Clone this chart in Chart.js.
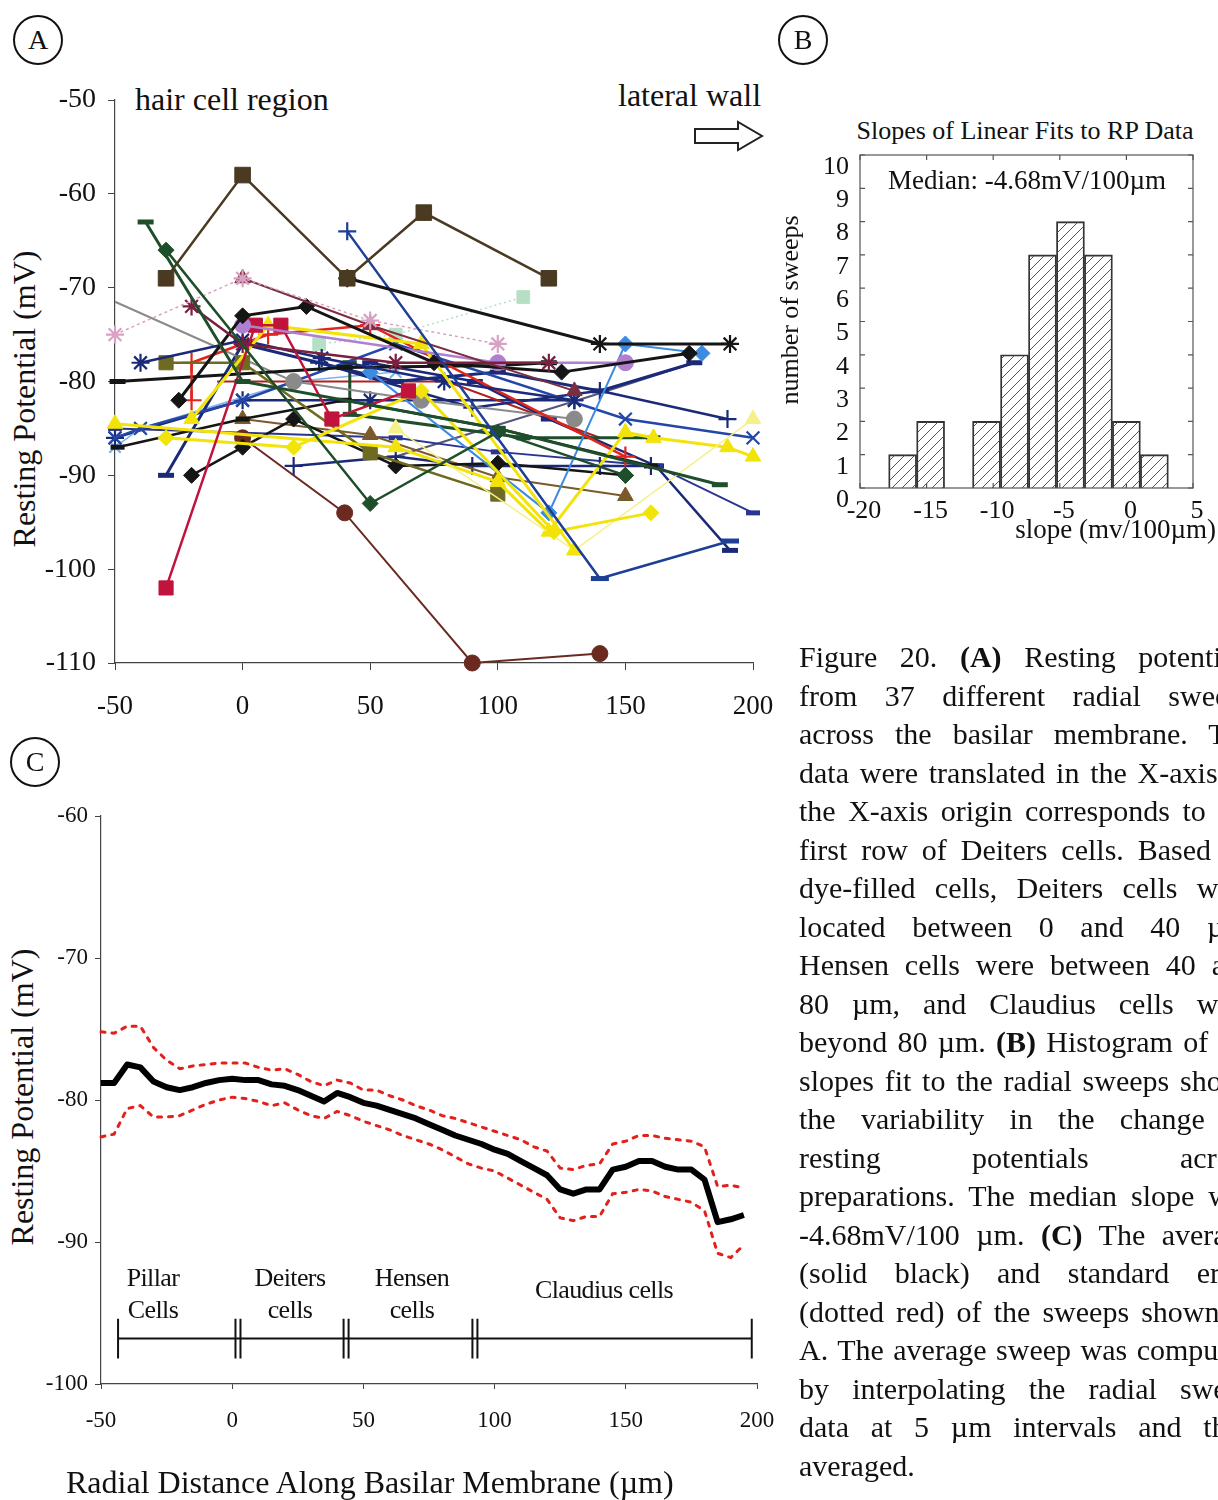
<!DOCTYPE html>
<html lang="en">
<head>
<meta charset="UTF-8" />
<title>Figure 20 - Radial resting potential sweeps</title>
<script src="https://cdn.jsdelivr.net/npm/chart.js"></script>
<style>
  * { margin: 0; padding: 0; box-sizing: border-box; }
  html, body { width: 1218px; height: 1500px; overflow: hidden; background: #fff; }
  body { position: relative; font-family: 'Liberation Serif', 'Times New Roman', serif; color: #111; }
  canvas { position: absolute; }
  .txt { position: absolute; white-space: nowrap; }
  .badge { position: absolute; width: 50px; height: 50px; border: 2px solid #111; border-radius: 50%;
           font-size: 28px; line-height: 46px; text-align: center; }
  .vtitle { position: absolute; width: 420px; height: 38px; line-height: 38px; text-align: center;
            transform: rotate(-90deg); white-space: nowrap; }
  .cell { position: absolute; width: 140px; text-align: center; font-size: 26px; line-height: 32px; letter-spacing: -0.6px; }
  #caption { position: absolute; left: 799px; top: 638px; width: 419px; overflow: hidden; font-size: 30px; }
  #caption div { width: 456px; height: 38.5px; line-height: 38.5px; text-align: justify; text-align-last: justify; white-space: nowrap; }
  #caption div:last-child { text-align-last: left; }
</style>
</head>
<body>

<!-- panel A -->
<div class="badge" style="left:13px; top:15px;">A</div>
<div class="txt" style="left:135px; top:81px; font-size:32px;">hair cell region</div>
<div class="txt" style="left:618px; top:77px; font-size:32px;">lateral wall</div>
<svg style="position:absolute; left:690px; top:118px;" width="80" height="40">
  <polygon points="5,11 48,11 48,4 72,18 48,32 48,25 5,25" fill="#fff" stroke="#222" stroke-width="2" />
</svg>
<div class="vtitle" style="left:-186px; top:380px; font-size:32px;">Resting Potential (mV)</div>
<canvas id="chartA" width="800" height="740" style="left:0; top:0;"></canvas>

<!-- panel B -->
<div class="badge" style="left:778px; top:15px;">B</div>
<div class="txt" style="left:800px; top:116px; width:450px; text-align:center; font-size:26px;">Slopes of Linear Fits to RP Data</div>
<div class="vtitle" style="left:580px; top:291px; font-size:26px;">number of sweeps</div>
<canvas id="chartB" width="438" height="440" style="left:780px; top:110px;"></canvas>
<div class="txt" style="left:827px; top:165px; width:400px; text-align:center; font-size:27px;">Median: -4.68mV/100µm</div>
<div class="txt" style="left:940px; top:514px; width:276px; text-align:right; font-size:27px;">slope (mv/100µm)</div>

<!-- panel C -->
<div class="badge" style="left:10px; top:737px;">C</div>
<div class="vtitle" style="left:-188px; top:1078px; font-size:32px;">Resting Potential (mV)</div>
<canvas id="chartC" width="800" height="690" style="left:0; top:780px;"></canvas>
<div class="cell" style="left:83px; top:1262px;">Pillar<br>Cells</div>
<div class="cell" style="left:220px; top:1262px;">Deiters<br>cells</div>
<div class="cell" style="left:342px; top:1262px;">Hensen<br>cells</div>
<div class="cell" style="left:494px; top:1274px; width:220px;">Claudius cells</div>
<div class="txt" style="left:66px; top:1464px; font-size:32px;">Radial Distance Along Basilar Membrane (µm)</div>

<div id="caption">
  <div>Figure 20. <b>(A)</b> Resting potentials</div>
  <div>from 37 different radial sweeps</div>
  <div>across the basilar membrane. The</div>
  <div>data were translated in the X-axis so</div>
  <div>the X-axis origin corresponds to the</div>
  <div>first row of Deiters cells. Based on</div>
  <div>dye-filled cells, Deiters cells were</div>
  <div>located between 0 and 40 µm,</div>
  <div>Hensen cells were between 40 and</div>
  <div>80 µm, and Claudius cells were</div>
  <div>beyond 80 µm. <b>(B)</b> Histogram of the</div>
  <div>slopes fit to the radial sweeps shows</div>
  <div>the variability in the change of</div>
  <div>resting potentials across</div>
  <div>preparations. The median slope was</div>
  <div>-4.68mV/100 µm. <b>(C)</b> The average</div>
  <div>(solid black) and standard error</div>
  <div>(dotted red) of the sweeps shown in</div>
  <div>A. The average sweep was computed</div>
  <div>by interpolating the radial sweep</div>
  <div>data at 5 µm intervals and then</div>
  <div>averaged.</div>
</div>

<script>
  // ---- A: individual radial sweeps, [distance (um), resting potential (mV)] ----
  const sw01 = [[-30,-69],[0,-58],[41,-69],[71,-62],[120,-69]];
  const sw02 = [[41,-69],[140,-76],[191,-76]];
  const sw03 = [[41,-64],[140,-101],[191,-97]];
  const sw04 = [[-38,-63],[0,-80],[100,-85],[187,-91]];
  const sw05 = [[-30,-66],[50,-93],[100,-85.4],[150,-90]];
  const sw06 = [[-50,-75],[0,-69],[50,-73.5],[100,-76]];
  const sw07 = [[-20,-72],[0,-76],[60,-78],[120,-78]];
  const sw08 = [[0,-69],[50,-74],[130,-81]];
  const sw09 = [[-25,-82],[0,-73],[25,-72],[75,-78],[125,-79],[175,-77]];
  const sw10 = [[0,-74],[100,-78],[150,-78]];
  const sw11 = [[-30,-102],[5,-74],[15,-74],[35,-84],[65,-81]];
  const sw12 = [[-20,-84],[10,-74],[70,-76],[130,-98]];
  const sw13 = [[-30,-86],[20,-87],[70,-81],[122,-96],[160,-94]];
  const sw14 = [[60,-85],[130,-98],[200,-84]];
  const sw15 = [[-50,-84.5],[60,-87],[100,-90.7],[120,-96],[150,-85.4],[161,-86],[190,-87],[200,-88]];
  const sw16 = [[-40,-78],[0,-75.6],[31,-77.5],[79,-80],[130,-82]];
  const sw17 = [[-30,-78],[0,-78],[50,-87.6],[100,-92]];
  const sw18 = [[-20,-82],[-20,-78],[10,-75],[50,-74],[150,-88]];
  const sw19 = [[-49,-80],[40,-78.5],[100,-78.3],[120,-78]];
  const sw20 = [[-50,-71.5],[20,-80],[70,-82],[130,-84]];
  const sw21 = [[30,-76],[60,-75],[110,-71]];
  const sw22 = [[50,-79],[120,-94],[150,-76],[180,-77]];
  const sw23 = [[-50,-86],[-40,-85],[0,-82],[60,-76],[150,-84],[200,-86]];
  const sw24 = [[-20,-90],[0,-87],[20,-84],[60,-89],[100,-88.7],[150,-90]];
  const sw25 = [[-49,-87],[0,-84],[40,-82],[100,-85],[160,-89]];
  const sw26 = [[-30,-90],[0,-76],[60,-80],[100,-79],[140,-81],[177,-78]];
  const sw27 = [[0,-86],[40,-94],[90,-110],[140,-109]];
  const sw28 = [[0,-84],[50,-85.7],[100,-90.2],[150,-92.2]];
  const sw29 = [[30,-78],[90,-82.8],[140,-81],[190,-84]];
  const sw30 = [[20,-89],[60,-88],[90,-89],[140,-89],[160,-89]];
  const sw31 = [[-50,-85],[60,-86],[100,-87.5],[162,-89],[200,-94]];
  const sw32 = [[42,-78],[42,-83.5],[110,-86],[161,-86]];
  const sw33 = [[50,-78],[91,-80],[120,-84],[162,-89],[191,-98]];
  const sw34 = [[-10,-80],[80,-80],[140,-86]];
  const sw35 = [[60,-88],[136,-81.6],[177,-78]];
  const sw36 = [[-50,-87],[-40,-85],[20,-80],[60,-79]];
  const sw37 = [[-50,-86],[0,-82],[50,-82],[130,-82]];

  const sweeps = [sw01, sw02, sw03, sw04, sw05, sw06, sw07, sw08, sw09, sw10, sw11, sw12, sw13,
                  sw14, sw15, sw16, sw17, sw18, sw19, sw20, sw21, sw22, sw23, sw24, sw25, sw26,
                  sw27, sw28, sw29, sw30, sw31, sw32, sw33, sw34, sw35, sw36, sw37];

  // ---- B: histogram of fitted slopes ----
  const binCenters = [-16.8, -14.7, -12.6, -10.5, -8.4, -6.3, -4.2, -2.1, 0, 2.1];
  const binCounts  = [1, 2, 0, 2, 4, 7, 8, 7, 2, 1];

  // ---- C: average sweep and standard error, sampled every 5 um ----
  const distC = [-50,-45,-40,-35,-30,-25,-20,-15,-10,-5,0,5,10,15,20,25,30,35,40,45,
                 50,55,60,65,70,75,80,85,90,95,100,105,110,115,120,125,130,135,140,145,
                 150,155,160,165,170,175,180,185,190,195];
  const meanC  = [-78.8,-78.8,-77.5,-77.7,-78.7,-79.1,-79.3,-79.1,-78.8,-78.6,-78.5,-78.6,-78.6,-78.9,-79.0,
                  -79.3,-79.7,-80.1,-79.5,-79.8,-80.2,-80.4,-80.7,-81.0,-81.3,-81.7,-82.1,-82.5,-82.8,-83.1,
                  -83.5,-83.8,-84.3,-84.8,-85.3,-86.3,-86.6,-86.3,-86.3,-84.9,-84.7,-84.3,-84.3,-84.7,-84.9,
                  -84.9,-85.6,-88.6,-88.4,-88.1];
  const upperC = [-75.2,-75.3,-74.8,-74.8,-76.3,-77.2,-77.8,-77.6,-77.5,-77.4,-77.4,-77.4,-77.7,-77.9,-77.8,
                  -78.2,-78.7,-79.0,-78.6,-78.8,-79.3,-79.3,-79.7,-80.0,-80.4,-80.7,-81.1,-81.3,-81.6,-81.9,
                  -82.2,-82.5,-82.8,-83.3,-83.6,-84.8,-84.9,-84.6,-84.5,-83.1,-82.9,-82.5,-82.5,-82.7,-82.8,
                  -82.9,-83.3,-86.1,-86.0,-86.2];
  const lowerC = [-82.6,-82.4,-80.6,-80.4,-81.2,-81.2,-81.1,-80.7,-80.3,-80.0,-79.8,-79.9,-80.1,-80.4,-80.2,
                  -80.7,-81.1,-81.3,-80.8,-81.1,-81.5,-81.8,-82.1,-82.5,-82.8,-83.1,-83.5,-84.0,-84.5,-84.8,
                  -85.0,-85.5,-86.0,-86.5,-87.0,-88.3,-88.5,-88.2,-88.2,-86.6,-86.5,-86.3,-86.4,-86.8,-87.0,
                  -87.2,-87.8,-90.8,-91.1,-90.2];

  // cell-type bands under the average sweep
  const regionEdges = [-43.5, 2.2, 43.4, 92.5, 198];
  const bandLevel = -96.8, bandTop = -95.4, bandBottom = -98.2;

  // colour, marker, marker radius, line width, dash
  const sweepStyle = [
    ['#4a3a22', 'rect', 11, 2.5],
    ['#151515', 'star', 9, 3],
    ['#1d3f96', ['cross', 'line', 'line'], 9, 2.5],
    ['#1f4f2a', 'line', 8, 3],
    ['#1f4f2a', 'rectRot', 8, 2.5],
    ['#d9a2c4', 'star', 9, 1.5, [3, 3]],
    ['#7a1f3d', 'star', 9, 2.5],
    ['#7d2e3e', 'triangle', 9, 2],
    ['#151515', 'rectRot', 8, 3],
    ['#b07fd0', 'circle', 8, 2.5],
    ['#c0143c', 'rect', 10, 2.5],
    ['#f2e40a', 'triangle', 9, 3],
    ['#f2e40a', 'rectRot', 8, 3],
    ['#f6f08a', 'triangle', 9, 1.5],
    ['#f2e40a', 'triangle', 9, 3],
    ['#1b2a78', 'star', 9, 2.5],
    ['#6e6a22', 'rect', 10, 2.5],
    ['#e2241c', 'cross', 10, 2.5],
    ['#151515', 'line', 8, 3],
    ['#8a8a8a', ['none', 'circle', 'circle', 'circle'], 8, 2],
    ['#b6e0c6', 'rect', 9, 1.5, [2, 3]],
    ['#3d8be0', 'rectRot', 8, 2],
    ['#2347a8', 'crossRot', 9, 2.5],
    ['#151515', 'rectRot', 8, 2.5],
    ['#151515', 'line', 7, 2.5],
    ['#1b2a78', 'line', 8, 3],
    ['#6a2a20', 'circle', 8, 2],
    ['#7a5a2a', 'triangle', 9, 2],
    ['#1b2a78', 'cross', 9, 2.5],
    ['#1b2a78', 'cross', 9, 2.5],
    ['#2a3590', 'line', 7, 2],
    ['#1f4f2a', 'line', 7, 3],
    ['#1b2a78', 'line', 8, 2.5],
    ['#b02020', 'none', 0, 2],
    ['#55557a', 'none', 0, 2],
    ['#7fb2e6', 'crossRot', 8, 1.5],
    ['#1b2a78', 'star', 9, 2.5]
  ];

  Chart.defaults.font.family = "'Liberation Serif', 'Times New Roman', serif";
  Chart.defaults.color = '#111';
  Chart.defaults.animation = false;
  Chart.defaults.responsive = false;
  Chart.defaults.plugins.legend.display = false;
  Chart.defaults.plugins.tooltip.enabled = false;

  const markerAt = (m, j) => Array.isArray(m) ? m[j] : m;
  const penFor = m => (m === 'line' ? 5 : (m === 'cross' || m === 'crossRot' || m === 'star') ? 2.2 : 1);

  // panel A -------------------------------------------------------------
  const dsA = sweeps.map((pts, i) => {
    const [color, marker, r, lw, dash] = sweepStyle[i];
    const kinds = pts.map((_, j) => markerAt(marker, j));
    return {
      data: pts.map(([x, y]) => ({ x, y })),
      showLine: true,
      borderColor: color,
      backgroundColor: color,
      borderWidth: lw,
      borderDash: dash || [],
      pointStyle: kinds.map(k => (k === 'none' ? 'circle' : k)),
      pointRadius: kinds.map(k => (k === 'none' ? 0 : r)),
      pointBorderWidth: kinds.map(penFor),
      pointBackgroundColor: color,
      pointBorderColor: color,
      tension: 0,
      clip: false
    };
  });

  new Chart(document.getElementById('chartA'), {
    type: 'scatter',
    data: { datasets: dsA },
    options: {
      devicePixelRatio: 1,
      layout: { padding: { top: 100, right: 47, left: 0, bottom: 0 } },
      scales: {
        x: {
          type: 'linear', min: -50, max: 200,
          ticks: { stepSize: 50, font: { size: 27 }, padding: 21 },
          grid: { drawOnChartArea: false, tickLength: 7, color: '#444' },
          border: { color: '#444', width: 1.2 },
          afterFit: s => { s.height = 77; }
        },
        y: {
          min: -110, max: -50,
          ticks: { stepSize: 10, font: { size: 28 }, padding: 12 },
          grid: { drawOnChartArea: false, tickLength: 7, color: '#444' },
          border: { color: '#444', width: 1.2 },
          afterFit: s => { s.width = 115; }
        }
      }
    }
  });

  // panel B -------------------------------------------------------------
  const ctxB = document.getElementById('chartB').getContext('2d');
  const tile = document.createElement('canvas');
  tile.width = tile.height = 10;
  const tc = tile.getContext('2d');
  tc.strokeStyle = '#555';
  tc.lineWidth = 1;
  tc.beginPath();
  tc.moveTo(0, 10); tc.lineTo(10, 0);
  tc.moveTo(-1, 1); tc.lineTo(1, -1);
  tc.moveTo(9, 11); tc.lineTo(11, 9);
  tc.stroke();
  const hatch = ctxB.createPattern(tile, 'repeat');

  // frame with inward ticks on all four sides
  const boxFrame = {
    id: 'boxFrame',
    afterDraw(chart) {
      const { ctx, chartArea: a, scales: { x, y } } = chart;
      ctx.save();
      ctx.strokeStyle = '#555';
      ctx.lineWidth = 1.2;
      ctx.strokeRect(a.left, a.top, a.width, a.height);
      ctx.beginPath();
      y.ticks.forEach(t => {
        const py = y.getPixelForValue(t.value);
        ctx.moveTo(a.left, py); ctx.lineTo(a.left + 5, py);
        ctx.moveTo(a.right, py); ctx.lineTo(a.right - 5, py);
      });
      x.ticks.forEach(t => {
        const px = x.getPixelForValue(t.value);
        ctx.moveTo(px, a.top); ctx.lineTo(px, a.top + 5);
        ctx.moveTo(px, a.bottom); ctx.lineTo(px, a.bottom - 5);
      });
      ctx.stroke();
      ctx.restore();
    }
  };

  new Chart(ctxB, {
    type: 'bar',
    data: {
      datasets: [{
        data: binCenters.map((x, i) => ({ x, y: binCounts[i] })),
        backgroundColor: hatch,
        borderColor: '#333',
        borderWidth: 1.2,
        barPercentage: 1,
        categoryPercentage: 1
      }]
    },
    options: {
      devicePixelRatio: 1,
      layout: { padding: { top: 45, right: 25, left: 0, bottom: 0 } },
      scales: {
        x: {
          type: 'linear', min: -20, max: 5, offset: false,
          ticks: { stepSize: 5, font: { size: 26 }, padding: 0, labelOffset: 4, autoSkip: false, maxRotation: 0 },
          grid: { display: false },
          border: { display: false },
          afterFit: s => { s.height = 62; }
        },
        y: {
          min: 0, max: 10,
          ticks: { stepSize: 1, font: { size: 26 }, padding: 3, labelOffset: 12, autoSkip: false },
          grid: { display: false },
          border: { display: false },
          afterFit: s => { s.width = 80; }
        }
      }
    },
    plugins: [boxFrame]
  });

  // panel C -------------------------------------------------------------
  const cellBands = {
    id: 'cellBands',
    afterDatasetsDraw(chart) {
      const { ctx, scales: { x, y } } = chart;
      const py = y.getPixelForValue(bandLevel);
      const top = y.getPixelForValue(bandTop);
      const bot = y.getPixelForValue(bandBottom);
      const edges = regionEdges.map(v => x.getPixelForValue(v));
      ctx.save();
      ctx.strokeStyle = '#111';
      ctx.lineWidth = 2;
      ctx.beginPath();
      ctx.moveTo(edges[0], py);
      ctx.lineTo(edges[edges.length - 1], py);
      edges.forEach((px, i) => {
        const offs = (i === 0 || i === edges.length - 1) ? [0] : [-2.5, 2.5];
        offs.forEach(d => { ctx.moveTo(px + d, top); ctx.lineTo(px + d, bot); });
      });
      ctx.stroke();
      ctx.restore();
    }
  };

  const asPoints = vals => vals.map((y, i) => ({ x: distC[i], y }));
  const dotted = { borderColor: '#e3201b', borderWidth: 3, borderDash: [4, 7], borderCapStyle: 'round' };

  new Chart(document.getElementById('chartC'), {
    type: 'scatter',
    data: {
      datasets: [
        Object.assign({ data: asPoints(upperC) }, dotted),
        Object.assign({ data: asPoints(lowerC) }, dotted),
        { data: asPoints(meanC), borderColor: '#000', borderWidth: 6, borderJoinStyle: 'round' }
      ].map(d => Object.assign({ showLine: true, pointRadius: 0, tension: 0, clip: false }, d))
    },
    options: {
      devicePixelRatio: 1,
      layout: { padding: { top: 36, right: 43, left: 0, bottom: 0 } },
      scales: {
        x: {
          type: 'linear', min: -50, max: 200,
          ticks: { stepSize: 50, font: { size: 23 }, padding: 18 },
          grid: { drawOnChartArea: false, tickLength: 5, color: '#444' },
          border: { color: '#444', width: 1.2 },
          afterFit: s => { s.height = 86; }
        },
        y: {
          min: -100, max: -60,
          ticks: { stepSize: 10, font: { size: 23 }, padding: 7 },
          grid: { drawOnChartArea: false, tickLength: 6, color: '#444' },
          border: { color: '#444', width: 1.2 },
          afterFit: s => { s.width = 101; }
        }
      }
    },
    plugins: [cellBands]
  });
</script>
</body>
</html>
